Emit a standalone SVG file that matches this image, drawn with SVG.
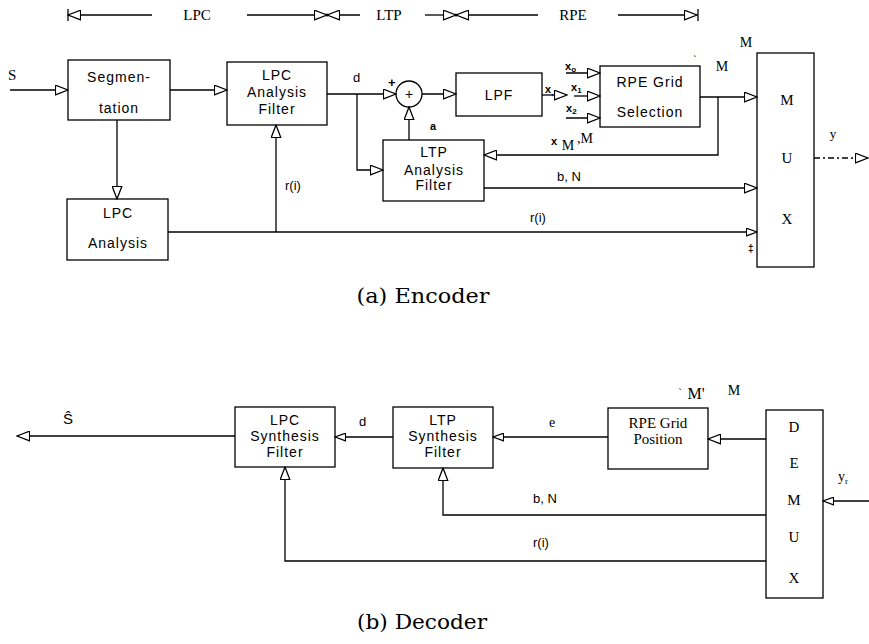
<svg xmlns="http://www.w3.org/2000/svg" width="869" height="644" viewBox="0 0 869 644">
<defs>
<marker id="tri" viewBox="0 0 14 11" refX="13.3" refY="5.5" markerWidth="14" markerHeight="11" markerUnits="userSpaceOnUse" orient="auto">
<path d="M0.7,0.7 L13.3,5.5 L0.7,10.3 Z" fill="#fff" stroke="#000" stroke-width="1.3"/>
</marker>
<marker id="tris" viewBox="0 0 12 9" refX="11.3" refY="4.5" markerWidth="12" markerHeight="9" markerUnits="userSpaceOnUse" orient="auto">
<path d="M0.7,0.7 L11.3,4.5 L0.7,8.3 Z" fill="#fff" stroke="#000" stroke-width="1.3"/>
</marker>
<style>
.box{fill:#fff;stroke:#000;stroke-width:1.3}
.ln{fill:none;stroke:#000;stroke-width:1.3}
.ar{marker-end:url(#tri)}
.ars{marker-end:url(#tris)}
.t{font-family:"Liberation Sans",Arial,sans-serif;font-size:14px;letter-spacing:1px;text-anchor:middle;fill:#000}
.s{font-family:"Liberation Serif","Times New Roman",serif;font-size:15px;text-anchor:middle;fill:#000}
.lbl{font-family:"Liberation Sans",Arial,sans-serif;font-size:13px;fill:#000}
.cap{font-family:"DejaVu Serif","Liberation Serif",serif;font-size:20px;text-anchor:middle;fill:#000}
</style>
</defs>
<rect width="869" height="644" fill="#fff"/>

<!-- legend -->
<g id="legend">
<path class="ln ar" d="M152,15 H68"/>
<path class="ln" d="M68,9 V21"/>
<text class="s" x="197" y="20">LPC</text>
<path class="ln ar" d="M247,15 H327"/>
<path class="ln ar" d="M360,15 H327"/>
<circle cx="327" cy="15" r="1.5" fill="#000"/>
<text class="s" x="389" y="20">LTP</text>
<path class="ln ar" d="M425,15 H456"/>
<path class="ln ar" d="M538,15 H456"/>
<circle cx="456" cy="15" r="1.5" fill="#000"/>
<text class="s" x="573" y="20">RPE</text>
<path class="ln ar" d="M618,15 H697"/>
<path class="ln" d="M698,9 V21"/>
</g>

<!-- encoder nodes -->
<g id="segmentation">
<rect class="box" x="68" y="60" width="102" height="60"/>
<text class="t" x="119" y="82">Segmen-</text>
<text class="t" x="119" y="113">tation</text>
</g>
<g id="lpc-analysis-filter">
<rect class="box" x="227" y="62" width="100" height="63"/>
<text class="t" x="277" y="80">LPC</text>
<text class="t" x="277" y="97">Analysis</text>
<text class="t" x="277" y="114">Filter</text>
</g>
<g id="adder">
<circle cx="409" cy="94" r="13" fill="#fff" stroke="#000" stroke-width="1.3"/>
<text class="t" x="409" y="99" style="letter-spacing:0">+</text>
</g>
<g id="lpf">
<rect class="box" x="456" y="73" width="86" height="43"/>
<text class="t" x="499" y="100">LPF</text>
</g>
<g id="rpe-grid-selection">
<rect class="box" x="600" y="66" width="100" height="61"/>
<text class="t" x="650" y="87">RPE Grid</text>
<text class="t" x="650" y="117">Selection</text>
</g>
<g id="ltp-analysis-filter">
<rect class="box" x="383" y="140" width="101" height="61"/>
<text class="t" x="434" y="157">LTP</text>
<text class="t" x="434" y="175">Analysis</text>
<text class="t" x="434" y="190">Filter</text>
</g>
<g id="lpc-analysis">
<rect class="box" x="67" y="199" width="101" height="61"/>
<text class="t" x="118" y="218">LPC</text>
<text class="t" x="118" y="248">Analysis</text>
</g>
<g id="mux">
<rect class="box" x="757" y="53" width="57" height="214"/>
<text class="s" x="787" y="105">M</text>
<text class="s" x="787" y="163">U</text>
<text class="s" x="787" y="224">X</text>
</g>

<!-- decoder nodes -->
<g id="lpc-synthesis-filter">
<rect class="box" x="235" y="407" width="100" height="60"/>
<text class="t" x="285" y="425">LPC</text>
<text class="t" x="285" y="441">Synthesis</text>
<text class="t" x="285" y="457">Filter</text>
</g>
<g id="ltp-synthesis-filter">
<rect class="box" x="393" y="407" width="100" height="61"/>
<text class="t" x="443" y="425">LTP</text>
<text class="t" x="443" y="441">Synthesis</text>
<text class="t" x="443" y="457">Filter</text>
</g>
<g id="rpe-grid-position">
<rect class="box" x="608" y="408" width="100" height="61"/>
<text class="s" x="658" y="428">RPE Grid</text>
<text class="s" x="658" y="444">Position</text>
</g>
<g id="demux">
<rect class="box" x="766" y="410" width="57" height="188"/>
<text class="s" x="794" y="432">D</text>
<text class="s" x="794" y="468">E</text>
<text class="s" x="794" y="505">M</text>
<text class="s" x="794" y="542">U</text>
<text class="s" x="794" y="583">X</text>
</g>

<!-- connectors -->
<g id="connectors">
<path class="ln ar" d="M10,90 H68"/>
<path class="ln ar" d="M170,90 H227"/>
<path class="ln ar" d="M327,94 H396"/>
<path class="ln ar" d="M357,94 V170 H383"/>
<path class="ln ar" d="M409,140 V107"/>
<path class="ln ar" d="M422,94 H456"/>
<path class="ln ar" d="M542,95 H567"/>
<path class="ln ar" d="M566,73 H600"/>
<path class="ln ar" d="M574,96 H600"/>
<path class="ln ar" d="M566,118 H600"/>
<path class="ln ar" d="M700,97 H757"/>
<path class="ln ar" d="M718,97 V155 H484"/>
<path class="ln ar" d="M484,188 H757"/>
<path class="ln ar" d="M117,120 V199"/>
<path class="ln ars" d="M168,232 H757"/>
<path class="ln ar" d="M276,232 V125"/>
<path class="ln" d="M814,158 H855" stroke-dasharray="6,3,2,3"/>
<path class="ln ar" d="M855,158 H868"/>

<path class="ln ar" d="M235,436 H17"/>
<path class="ln ars" d="M393,437 H335"/>
<path class="ln ars" d="M608,437 H493"/>
<path class="ln ar" d="M766,439 H708"/>
<path class="ln ar" d="M766,515 H443 V468"/>
<path class="ln ar" d="M766,561 H285 V467"/>
<path class="ln ars" d="M869,501 H823"/>
</g>

<!-- labels -->
<g id="labels">
<text class="lbl" x="8" y="80" style="font-family:'Liberation Serif',serif;font-size:15px">S</text>
<text class="lbl" x="353" y="82">d</text>
<text class="lbl" x="388" y="87" style="font-weight:bold">+</text>
<text class="lbl" x="430" y="130" style="font-weight:bold;font-size:11px">a</text>
<text class="lbl" x="545" y="93" style="font-weight:bold;font-size:11px">x<tspan dy="2" font-size="8">,</tspan></text>
<text class="lbl" x="565" y="70" style="font-weight:bold;font-size:11px">x<tspan dy="2" font-size="8">o</tspan></text>
<text class="lbl" x="571" y="91" style="font-weight:bold;font-size:11px">x<tspan dy="2" font-size="8">1</tspan></text>
<text class="lbl" x="566" y="112" style="font-weight:bold;font-size:11px">x<tspan dy="2" font-size="8">2</tspan></text>
<text class="lbl" x="693" y="64" style="font-size:11px">ˋ</text>
<text class="s" x="722" y="71" style="font-size:14px">M</text>
<text class="s" x="746" y="47" style="font-size:14px">M</text>
<text class="lbl" x="551" y="145" style="font-weight:bold;font-size:11px">x</text>
<text class="s" x="568" y="150" style="font-size:14px">M</text>
<text class="s" x="585" y="143" style="font-size:14px">,M</text>
<text class="lbl" x="285" y="190">r(i)</text>
<text class="lbl" x="557" y="181">b, N</text>
<text class="lbl" x="530" y="222">r(i)</text>
<text class="s" x="833" y="138" style="font-size:13px">y</text>
<text class="lbl" x="748" y="252" style="font-weight:bold;font-size:10px">‡</text>

<text class="lbl" x="63" y="424" style="font-size:15px">Ŝ</text>
<text class="lbl" x="359" y="426">d</text>
<text class="s" x="552" y="427" style="font-size:14px">e</text>
<text class="s" x="680" y="396" style="font-size:11px">ˋ</text>
<text class="s" x="696" y="399" style="font-size:16px">M'</text>
<text class="s" x="734" y="395" style="font-size:14px">M</text>
<text class="lbl" x="533" y="503">b, N</text>
<text class="lbl" x="533" y="547">r(i)</text>
<text class="s" x="843" y="481" style="font-size:14px">y<tspan dy="3" font-size="9">r</tspan></text>

<text class="cap" x="423" y="303" textLength="133" lengthAdjust="spacingAndGlyphs">(a) Encoder</text>
<text class="cap" x="422" y="629" textLength="130" lengthAdjust="spacingAndGlyphs">(b) Decoder</text>
</g>
</svg>
